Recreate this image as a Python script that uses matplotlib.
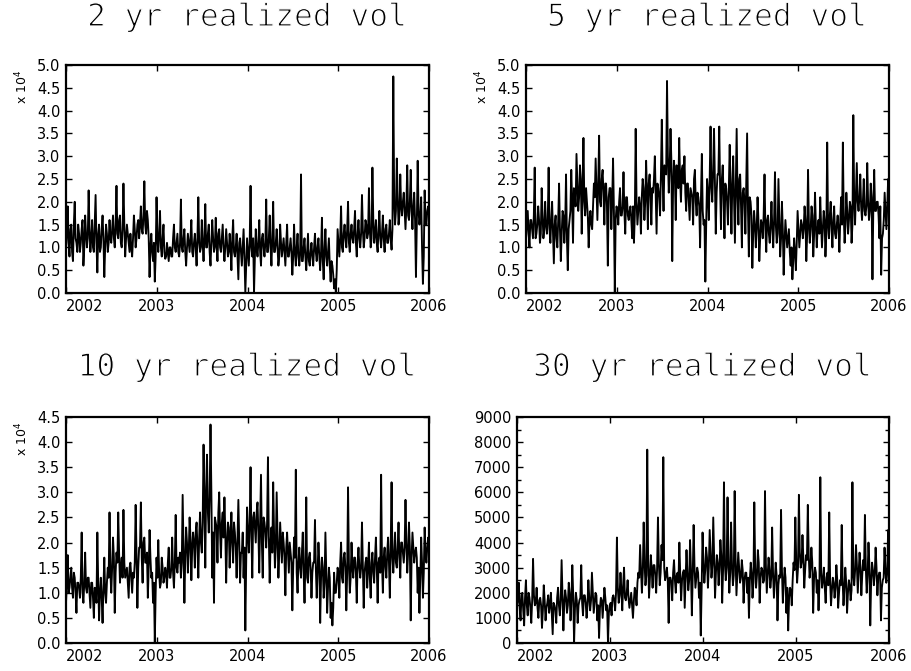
import numpy as np
import matplotlib
matplotlib.use('Agg')
import matplotlib.pyplot as plt
import matplotlib.ticker as ticker
import matplotlib.patheffects as pe

# realized vol, 4 years, ~13 readings per quarter.
# *_a are the swing extremes, *_b the readings in between them
vol_2yr_a = [
    1.0, 1.9, 0.8, 1.5, 0.7, 2.0, 1.1, 1.5, 0.9, 1.4, 0.6, 1.7, 1.0,
    2.25, 0.9, 1.6, 0.9, 2.15, 0.45, 1.5, 1.0, 1.7, 0.35, 1.5, 0.9, 1.6,
    1.1, 1.7, 1.0, 2.35, 1.2, 1.7, 1.0, 2.4, 0.8, 1.5, 1.1, 1.3, 0.8,
    1.7, 1.0, 1.5, 1.2, 1.9, 1.3, 2.45, 1.3, 1.6, 0.35, 1.3, 0.7, 0.25,
    2.1, 0.9, 1.8, 0.8, 1.5, 0.75, 1.1, 0.7, 1.0, 0.8, 1.5, 0.9, 1.3,
    0.8, 2.05, 0.9, 1.4, 0.6, 1.3, 0.9, 1.6, 0.8, 1.3, 0.6, 2.1, 0.9,
    1.6, 0.7, 1.95, 1.0, 1.5, 0.6, 1.6, 0.9, 1.65, 0.7, 1.4, 0.9, 1.5,
    0.7, 1.4, 0.8, 1.3, 0.5, 1.6, 0.8, 1.3, 0.3, 1.2, 0.6, 1.4, 0.0,
    1.2, 0.6, 2.35, 0.8, 0.0, 1.4, 0.8, 1.6, 0.6, 1.3, 0.8, 2.05, 0.9,
    1.7, 0.6, 2.0, 0.9, 1.4, 0.6, 1.5, 0.8, 1.2, 0.6, 1.5, 0.8, 1.2,
    0.4, 1.5, 0.6, 1.3, 0.6, 2.6, 0.7, 1.2, 0.5, 1.3, 0.6, 1.1, 0.6,
    1.3, 0.7, 1.2, 0.5, 1.65, 0.3, 1.4, 0.6, 1.2, 0.25, 0.6, 0.1, 0.0,
    1.4, 0.8, 1.9, 0.9, 1.5, 1.0, 2.0, 0.9, 1.5, 1.1, 1.8, 0.8, 1.6,
    1.0, 2.15, 1.0, 1.6, 1.2, 2.3, 1.0, 2.75, 1.1, 1.6, 0.9, 1.8, 1.0,
    1.7, 0.9, 1.5, 1.1, 1.6, 0.95, 4.75, 1.5, 2.95, 1.5, 2.6, 1.7, 2.2,
    1.4, 2.8, 1.6, 2.7, 1.4, 2.2, 0.35, 2.9, 1.5, 2.1, 0.2, 2.25, 1.5, 1.9,
]
vol_2yr_b = [
    1.3, 1.1, 1.4, 0.9, 1.5, 1.2, 0.9, 1.3, 1.1, 1.6, 1.0, 1.3, 1.2,
    1.4, 1.2, 1.0, 1.5, 1.1, 1.3, 0.9, 1.4, 1.2, 1.0, 1.3, 1.1, 1.2,
    1.4, 1.2, 1.5, 1.3, 1.6, 1.1, 1.4, 1.5, 1.2, 1.3, 0.9, 1.0, 1.2,
    1.4, 1.2, 1.6, 1.5, 1.4, 1.7, 1.5, 1.8, 1.2, 1.0, 0.9, 1.1, 0.8,
    1.2, 1.3, 1.0, 1.2, 0.9, 0.8, 0.9, 1.0, 0.8, 1.2, 1.0, 1.1, 0.9,
    1.1, 1.0, 1.2, 0.9, 1.0, 1.1, 1.2, 0.9, 1.1, 1.0, 1.2, 1.1, 1.0,
    1.1, 1.2, 1.0, 1.3, 0.9, 1.1, 1.2, 1.0, 1.1, 1.3, 1.0, 1.2, 1.0,
    1.0, 1.1, 0.9, 1.0, 1.2, 0.9, 1.0, 0.8, 1.1, 0.9, 1.0, 0.8, 0.6,
    0.9, 1.1, 1.0, 1.2, 0.8, 1.0, 1.1, 0.9, 1.2, 1.0, 1.1, 0.9, 1.2,
    1.0, 1.2, 0.9, 1.1, 1.0, 0.8, 1.1, 1.0, 0.9, 1.1, 0.8, 1.0, 0.9,
    0.8, 0.9, 1.0, 0.8, 0.9, 0.7, 1.0, 0.8, 0.9, 0.7, 0.9, 0.8, 1.0,
    0.9, 1.0, 0.8, 0.9, 0.7, 1.0, 0.8, 0.9, 0.6, 0.7, 0.4, 0.3, 0.5,
    1.1, 1.2, 1.0, 1.3, 1.2, 1.4, 1.1, 1.3, 1.2, 1.4, 1.1, 1.3, 1.2,
    1.3, 1.4, 1.2, 1.5, 1.3, 1.4, 1.2, 1.6, 1.3, 1.1, 1.4, 1.2, 1.3,
    1.2, 1.4, 1.1, 1.3, 1.2, 1.4, 2.0, 1.8, 2.1, 1.7, 1.9, 2.0, 1.8,
    1.9, 1.7, 2.0, 1.8, 1.9, 1.6, 1.5, 1.8, 1.7, 1.0, 0.8, 1.6, 1.8, 1.7,
]

vol_5yr_a = [
    1.2, 1.8, 1.0, 1.6, 1.2, 2.75, 1.3, 1.9, 1.1, 2.3, 1.2, 2.0, 1.3,
    2.75, 1.1, 2.0, 0.65, 1.7, 1.0, 2.4, 0.7, 1.8, 1.1, 2.6, 0.5, 1.6,
    2.7, 1.1, 2.2, 3.05, 1.8, 2.8, 1.3, 3.4, 1.7, 2.0, 1.0, 1.8, 1.4,
    2.4, 2.95, 1.6, 3.45, 1.9, 2.7, 1.5, 2.4, 0.6, 2.3, 1.4, 2.95, 0.0,
    1.9, 1.5, 2.3, 1.7, 2.65, 1.3, 2.1, 1.6, 1.9, 1.2, 1.1, 3.6, 1.5,
    2.1, 1.3, 2.5, 1.6, 2.9, 1.4, 2.6, 1.5, 2.2, 3.0, 1.3, 2.3, 1.7,
    3.8, 1.8, 2.7, 4.65, 2.2, 3.6, 0.7, 2.9, 1.6, 2.5, 3.4, 2.0, 2.8,
    3.0, 1.8, 2.4, 1.6, 2.2, 1.5, 2.7, 1.7, 2.1, 1.0, 3.05, 1.5, 0.25,
    2.5, 1.6, 3.65, 2.0, 3.6, 1.3, 2.6, 3.65, 1.4, 2.8, 1.2, 2.3, 1.5,
    3.25, 1.3, 3.0, 1.1, 3.6, 1.5, 2.6, 1.0, 2.3, 1.3, 3.5, 0.8, 2.0,
    0.55, 1.8, 1.0, 2.1, 0.7, 1.6, 1.2, 2.6, 0.9, 1.7, 1.1, 2.0, 1.0,
    2.65, 1.1, 2.5, 0.8, 2.0, 0.4, 1.6, 1.0, 1.4, 0.6, 0.3, 1.2, 0.5,
    1.8, 1.0, 1.6, 1.2, 1.9, 0.7, 2.7, 1.1, 1.9, 0.8, 2.2, 1.0, 1.6,
    2.1, 1.0, 1.8, 0.8, 3.3, 1.2, 2.0, 1.0, 1.9, 1.2, 1.7, 0.9, 2.1,
    3.3, 1.1, 2.2, 1.3, 2.0, 1.1, 3.9, 1.5, 2.85, 1.8, 2.6, 1.6, 2.5,
    1.7, 2.85, 1.6, 2.4, 0.3, 2.7, 1.8, 2.0, 1.2, 0.4, 1.3, 2.2, 1.4, 2.5,
]
vol_5yr_b = [
    1.5, 1.3, 1.6, 1.4, 1.7, 1.2, 1.5, 1.6, 1.3, 1.7, 1.4, 1.5, 1.6,
    1.4, 1.6, 1.3, 1.5, 1.2, 1.6, 1.4, 1.3, 1.7, 1.5, 1.2, 1.4, 1.8,
    2.0, 2.3, 1.9, 2.4, 2.1, 2.5, 2.2, 2.0, 2.3, 1.7, 1.6, 1.5, 1.9,
    2.1, 2.3, 2.4, 2.0, 2.5, 2.2, 2.4, 1.9, 2.1, 2.3, 2.0, 1.8, 1.6,
    1.8, 2.0, 1.7, 1.9, 1.8, 2.1, 1.7, 1.8, 1.6, 1.9, 1.7, 2.0, 1.8,
    1.9, 2.1, 2.3, 2.0, 2.2, 2.4, 2.1, 2.3, 2.5, 2.2, 2.4, 2.1, 2.6,
    2.5, 2.8, 2.6, 3.0, 2.7, 2.9, 2.4, 2.6, 2.8, 2.3, 2.5, 2.7, 2.4,
    2.2, 2.4, 2.0, 2.3, 2.1, 2.5, 2.0, 2.2, 1.9, 2.1, 1.8, 1.6, 1.5,
    2.2, 2.5, 2.3, 2.7, 2.4, 2.2, 2.6, 2.3, 2.5, 2.1, 2.4, 2.0, 2.3,
    2.2, 2.4, 2.0, 2.3, 2.1, 2.5, 1.9, 2.2, 2.0, 2.4, 1.8, 2.1, 1.7,
    1.3, 1.5, 1.4, 1.6, 1.2, 1.5, 1.7, 1.4, 1.6, 1.3, 1.5, 1.4, 1.6,
    1.5, 1.3, 1.6, 1.2, 1.4, 1.1, 1.3, 1.2, 0.9, 1.0, 0.7, 0.9, 1.1,
    1.4, 1.3, 1.5, 1.4, 1.6, 1.3, 1.5, 1.4, 1.7, 1.3, 1.5, 1.4, 1.3,
    1.5, 1.4, 1.6, 1.3, 1.5, 1.7, 1.4, 1.6, 1.3, 1.5, 1.4, 1.6, 1.5,
    1.7, 1.5, 1.8, 1.6, 1.9, 1.5, 2.0, 2.2, 2.0, 2.1, 1.9, 2.0, 1.8,
    1.9, 2.0, 1.8, 2.1, 1.9, 1.8, 2.0, 1.7, 1.9, 1.2, 1.6, 1.8, 1.9, 2.0,
]

vol_10yr_a = [
    0.8, 1.75, 1.1, 1.5, 0.9, 1.3, 0.6, 1.2, 0.9, 2.2, 0.8, 1.8, 1.0,
    1.3, 0.7, 1.2, 0.5, 1.0, 2.2, 0.45, 1.3, 0.4, 1.7, 0.8, 1.5, 2.6,
    1.0, 2.1, 0.6, 1.8, 2.6, 1.2, 1.7, 2.65, 1.3, 1.5, 0.9, 1.6, 1.0,
    1.3, 2.75, 0.7, 1.9, 2.8, 1.2, 2.1, 1.6, 0.9, 2.25, 1.3, 0.8, 0.0,
    1.7, 2.05, 1.1, 1.7, 1.2, 1.5, 1.1, 1.9, 1.3, 2.1, 1.1, 2.55, 1.4,
    1.6, 1.3, 2.95, 0.8, 2.3, 1.4, 2.5, 1.25, 2.2, 1.5, 2.4, 1.3, 2.6,
    1.8, 3.95, 1.5, 3.75, 2.2, 4.35, 1.3, 0.8, 2.4, 1.6, 3.0, 1.7, 2.6,
    2.9, 1.2, 2.4, 1.5, 2.6, 1.6, 2.2, 1.3, 2.85, 1.2, 1.8, 1.3, 0.25,
    2.7, 1.8, 3.5, 1.3, 2.6, 2.0, 2.8, 1.4, 3.35, 1.3, 2.4, 1.9, 3.7,
    1.2, 2.3, 3.2, 1.5, 3.0, 1.3, 2.4, 1.6, 2.0, 0.95, 2.2, 1.4, 1.8,
    0.65, 2.1, 3.45, 1.0, 1.9, 1.3, 2.2, 0.8, 2.9, 1.2, 1.8, 0.9, 1.6,
    2.45, 0.9, 2.0, 0.4, 1.7, 0.9, 2.2, 0.6, 1.5, 0.5, 0.35, 1.4, 1.0,
    1.5, 0.9, 2.0, 1.2, 1.8, 0.65, 3.1, 1.0, 2.0, 1.3, 1.7, 0.8, 1.9,
    1.3, 2.4, 0.7, 1.6, 1.1, 2.0, 0.9, 1.8, 1.2, 2.1, 0.8, 1.7, 3.35,
    1.0, 1.9, 1.3, 2.1, 0.9, 3.2, 1.4, 2.2, 1.5, 2.4, 1.3, 2.0, 1.6,
    2.85, 1.4, 2.4, 0.45, 2.2, 1.6, 1.9, 1.0, 0.6, 2.1, 0.9, 2.3, 1.6, 2.1,
]
vol_10yr_b = [
    1.2, 1.0, 1.3, 1.1, 1.4, 1.0, 1.2, 1.1, 1.3, 1.0, 1.2, 1.1, 1.3,
    1.0, 1.2, 0.9, 1.1, 0.8, 1.2, 1.0, 0.9, 1.1, 1.0, 1.2, 1.3, 1.4,
    1.5, 1.7, 1.4, 1.6, 1.8, 1.5, 1.3, 1.6, 1.4, 1.2, 1.5, 1.3, 1.4,
    1.6, 1.8, 1.5, 1.9, 1.7, 2.0, 1.6, 1.8, 1.5, 1.7, 1.4, 1.2, 1.0,
    1.3, 1.4, 1.2, 1.5, 1.3, 1.4, 1.6, 1.3, 1.5, 1.4, 1.6, 1.5, 1.7,
    1.8, 1.6, 1.9, 1.7, 2.0, 1.8, 2.1, 1.9, 2.0, 2.2, 1.9, 2.1, 2.0,
    2.4, 2.8, 3.1, 2.6, 2.9, 3.0, 2.2, 2.5, 2.3, 2.6, 2.2, 2.4, 2.1,
    2.2, 2.0, 2.3, 2.1, 2.0, 2.4, 1.9, 2.1, 2.0, 1.8, 2.2, 1.9, 1.6,
    2.2, 2.4, 2.1, 2.5, 2.3, 2.6, 2.2, 2.4, 2.0, 2.5, 2.2, 2.4, 2.1,
    2.0, 1.8, 2.2, 1.9, 2.1, 1.8, 2.0, 2.2, 1.7, 1.9, 1.8, 2.0, 1.6,
    1.5, 1.7, 1.4, 1.6, 1.5, 1.8, 1.4, 1.6, 1.3, 1.7, 1.5, 1.4, 1.6,
    1.5, 1.4, 1.6, 1.3, 1.5, 1.2, 1.4, 1.1, 1.3, 0.8, 0.7, 1.0, 1.2,
    1.4, 1.6, 1.3, 1.7, 1.5, 1.4, 1.6, 1.3, 1.5, 1.7, 1.4, 1.6, 1.5,
    1.5, 1.6, 1.4, 1.7, 1.5, 1.3, 1.6, 1.4, 1.7, 1.5, 1.6, 1.4, 1.6,
    1.7, 1.5, 1.8, 1.6, 1.9, 1.7, 1.8, 1.6, 1.9, 1.7, 2.0, 1.8, 1.9,
    2.0, 1.8, 1.9, 1.7, 1.9, 1.8, 1.7, 1.5, 1.3, 1.6, 1.4, 1.8, 1.9, 2.0,
]

vol_30yr_a = [
    1500, 2400, 900, 2000, 700, 2500, 1100, 1800, 800, 3350, 1500, 2200, 1000,
    1800, 600, 2300, 900, 1600, 1200, 2000, 350, 1500, 800, 2200, 1100, 3300,
    500, 2100, 1200, 2400, 900, 3100, 0, 2000, 800, 1700, 3100, 1100, 1900,
    1000, 2500, 1300, 2800, 1200, 2000, 900, 200, 1800, 1000, 2200, 1300, 0,
    1500, 1100, 1900, 1300, 4200, 1600, 2800, 1300, 3000, 1700, 2500, 1400, 2000,
    1000, 2200, 1500, 2800, 3900, 2000, 4800, 2300, 7700, 1800, 3500, 2200, 3100,
    2000, 5000, 2300, 3900, 7400, 2500, 3000, 800, 2600, 1700, 3300, 2000, 2800,
    4000, 1700, 2800, 1400, 3700, 2100, 4100, 1100, 4700, 2200, 3000, 1800, 300,
    4400, 2400, 3800, 2200, 4500, 2600, 5000, 1800, 3500, 2300, 4100, 1600, 6400,
    2500, 5800, 2000, 4800, 2300, 6050, 1900, 3600, 2400, 3300, 1600, 2800, 2000,
    1000, 3200, 1800, 5600, 2200, 3700, 1600, 3000, 2400, 6050, 2000, 3400, 2200,
    4600, 1800, 3200, 900, 2700, 5300, 1600, 3000, 1200, 500, 2200, 1500, 3200,
    5000, 2400, 5900, 3000, 4300, 2200, 3500, 5500, 2600, 3800, 1200, 3000, 2000,
    1300, 6600, 2200, 3000, 1600, 2800, 5200, 1500, 2600, 1800, 3100, 1400, 2500,
    4700, 1500, 3000, 1200, 2500, 1700, 6400, 2300, 3900, 2000, 3600, 1900, 3300,
    5100, 2000, 4000, 700, 3200, 2300, 3800, 1900, 2800, 900, 2500, 3800, 2400, 4500,
]
vol_30yr_b = [
    1700, 1400, 1900, 1300, 1800, 1500, 2000, 1400, 1700, 1900, 1600, 1400, 1700,
    1500, 1300, 1700, 1400, 1900, 1500, 1200, 1600, 1300, 1800, 1500, 1700, 1900,
    1600, 1800, 1500, 2000, 1700, 1900, 1400, 1700, 1500, 1800, 1600, 1900, 1600,
    1500, 1800, 1700, 2000, 1600, 1900, 1500, 1400, 1700, 1600, 1800, 1500, 1200,
    1600, 1800, 1700, 2000, 2200, 1900, 2100, 2300, 1800, 2000, 1800, 1700, 1500,
    1700, 2000, 2400, 2600, 3000, 2800, 3200, 2700, 3300, 2600, 2900, 3100, 2700,
    2900, 3200, 2800, 3300, 3000, 2700, 2500, 2600, 2400, 2800, 2500, 2700, 2400,
    2700, 2500, 2900, 2600, 2800, 2500, 2900, 2700, 3000, 2600, 2800, 2400, 2200,
    3200, 2900, 3400, 3000, 3600, 3100, 3300, 2800, 3200, 3000, 3500, 2900, 3200,
    3000, 3300, 2800, 3100, 2700, 3400, 2800, 3000, 2600, 2900, 2500, 2800, 2600,
    2500, 2800, 2400, 3000, 2700, 3200, 2600, 2900, 2500, 3100, 2700, 2900, 2600,
    2800, 2500, 2700, 2300, 2600, 2900, 2400, 2600, 2200, 1800, 2100, 2500, 2900,
    3300, 3000, 3600, 3200, 3400, 2900, 3300, 3500, 3000, 3200, 2600, 2800, 2500,
    2300, 2800, 2500, 2200, 2600, 2300, 2500, 2100, 2400, 2200, 2500, 2000, 2300,
    2500, 2200, 2400, 2000, 2300, 2100, 2700, 2900, 3100, 2800, 3000, 2700, 2900,
    3000, 2700, 3100, 2500, 2900, 2700, 3000, 2600, 2800, 2200, 2600, 2900, 2800, 3200,
]

titles = ['2 yr realized vol', '5 yr realized vol', '10 yr realized vol', '30 yr realized vol']
series = [(vol_2yr_a, vol_2yr_b), (vol_5yr_a, vol_5yr_b),
          (vol_10yr_a, vol_10yr_b), (vol_30yr_a, vol_30yr_b)]
ymax = [5.0, 5.0, 4.5, 9000]
year_ticks = [2002, 2003, 2004, 2005, 2006]

W, H = 911, 671
fig = plt.figure(figsize=(W / 100, H / 100), dpi=100)

# axes boxes in pixels: left, top, right, bottom
boxes = [(66, 65, 429, 293), (526, 65, 889, 293),
         (66, 417, 429, 643), (517, 417, 889, 643)]
title_base = [26, 26, 376, 376]

# thin the glyphs a bit: the reference titles use a hairline face
thin = [pe.Stroke(linewidth=0.9, foreground='white')]

for i in range(4):
    l, t, r, b = boxes[i]
    ax = fig.add_axes([l / W, 1 - b / H, (r - l) / W, (b - t) / H])
    va, vb = series[i]
    vals = np.column_stack([va, vb]).ravel()
    x = np.linspace(2002.0, 2006.0, len(vals))
    ax.plot(x, vals, color='black', lw=1.35)

    ax.set_xlim(2002, 2006)
    ax.set_ylim(0, ymax[i])
    ax.set_xticks(year_ticks)
    ax.set_xticklabels([str(y) for y in year_ticks])
    ax.get_xticklabels()[0].set_horizontalalignment('left')

    if i < 3:
        ax.yaxis.set_major_locator(ticker.MultipleLocator(0.5))
        ax.yaxis.set_major_formatter(ticker.FormatStrFormatter('%.1f'))
        fig.text((l - 44) / W, 1 - (t + 22) / H, r'x 10$^4$', rotation=90,
                 ha='center', va='center', fontsize=9)
    else:
        ax.yaxis.set_major_locator(ticker.MultipleLocator(1000))
        ax.yaxis.set_minor_locator(ticker.MultipleLocator(500))
        ax.yaxis.set_major_formatter(ticker.FormatStrFormatter('%d'))

    ax.tick_params(which='both', direction='in', top=True, right=True,
                   labelsize=10.5, width=1)
    ax.tick_params(which='major', length=4, pad=4)
    ax.tick_params(which='minor', length=3)
    for sp in ax.spines.values():
        sp.set_linewidth(1.6)

    fig.text((l + r) / 2 / W, 1 - title_base[i] / H, titles[i],
             ha='center', va='baseline', fontsize=22.5,
             family='DejaVu Sans Mono', color='black', path_effects=thin)

fig.savefig('out.png', dpi=100)
